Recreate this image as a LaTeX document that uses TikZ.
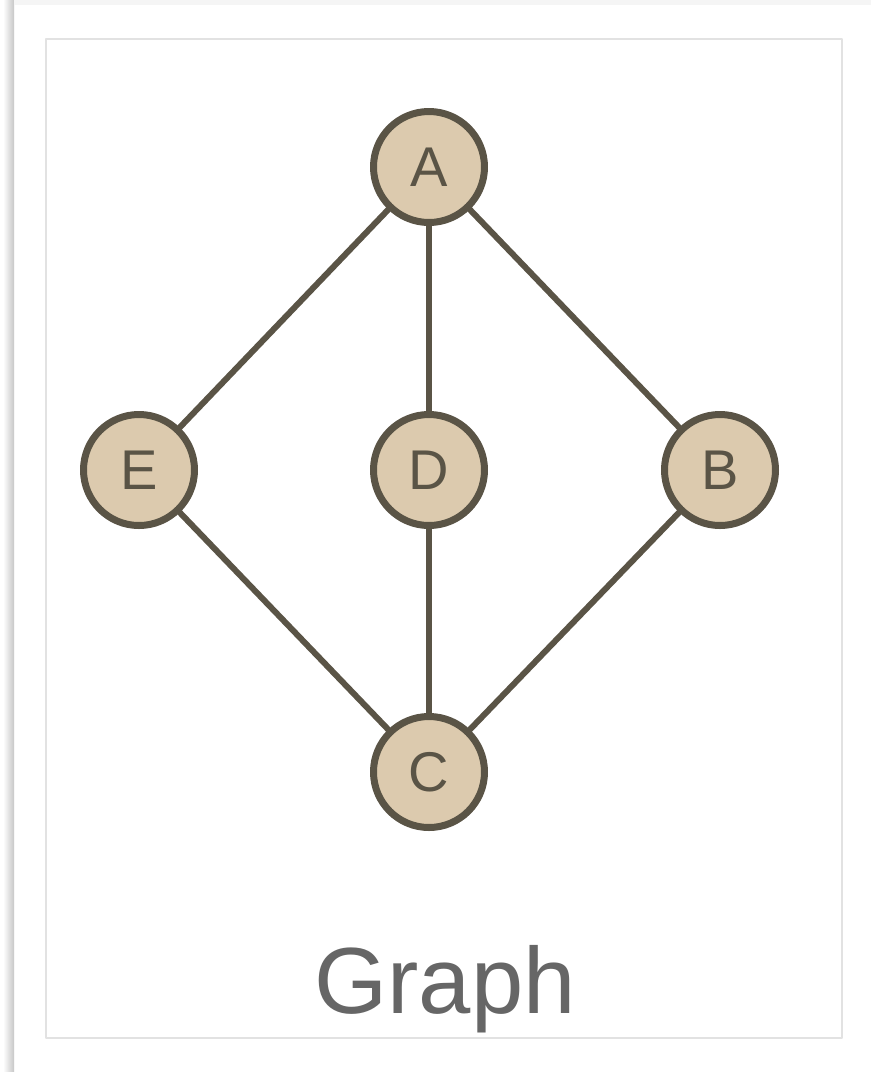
\documentclass[tikz,border=0pt]{standalone}
\usepackage{fontspec}
\setmainfont{Liberation Sans}
\definecolor{ink}{HTML}{5A5446}
\definecolor{sand}{HTML}{DCCAAE}
\definecolor{frame}{HTML}{E2E2E2}
\definecolor{caption}{HTML}{666666}

\begin{document}
\begin{tikzpicture}[x=1pt,y=-1pt,line cap=round,line join=round,
    vertex/.style={circle,draw=ink,fill=sand,line width=7pt,minimum size=111pt,
      inner sep=0pt,text=ink,font=\fontsize{56}{56}\selectfont},
    link/.style={draw=ink,line width=6pt}]
  \useasboundingbox (0,0) rectangle (871,1072);
  % Card with its soft shadow.
  \fill[white] (0,0) rectangle (871,1072);
  \shade[left color=white,right color=black!22] (3,0) rectangle (14,1072);
  \fill[black!4] (14,0) rectangle (871,5);
  \draw[frame,line width=1.5pt] (46,39) rectangle (842,1038);

  % Vertices.
  \node[vertex] (A) at (429,167) {A};
  \node[vertex] (E) at (139,470) {E};
  \node[vertex] (D) at (429,470) {D};
  \node[vertex] (B) at (720,470) {B};
  \node[vertex] (C) at (429,772) {C};

  % Edges.
  \draw[link] (A) -- (E);
  \draw[link] (A) -- (D);
  \draw[link] (A) -- (B);
  \draw[link] (E) -- (C);
  \draw[link] (D) -- (C);
  \draw[link] (B) -- (C);

  \node[text=caption,font=\fontsize{94}{94}\selectfont,anchor=base] (title)
    at (445,1013) {Graph};
\end{tikzpicture}
\end{document}
